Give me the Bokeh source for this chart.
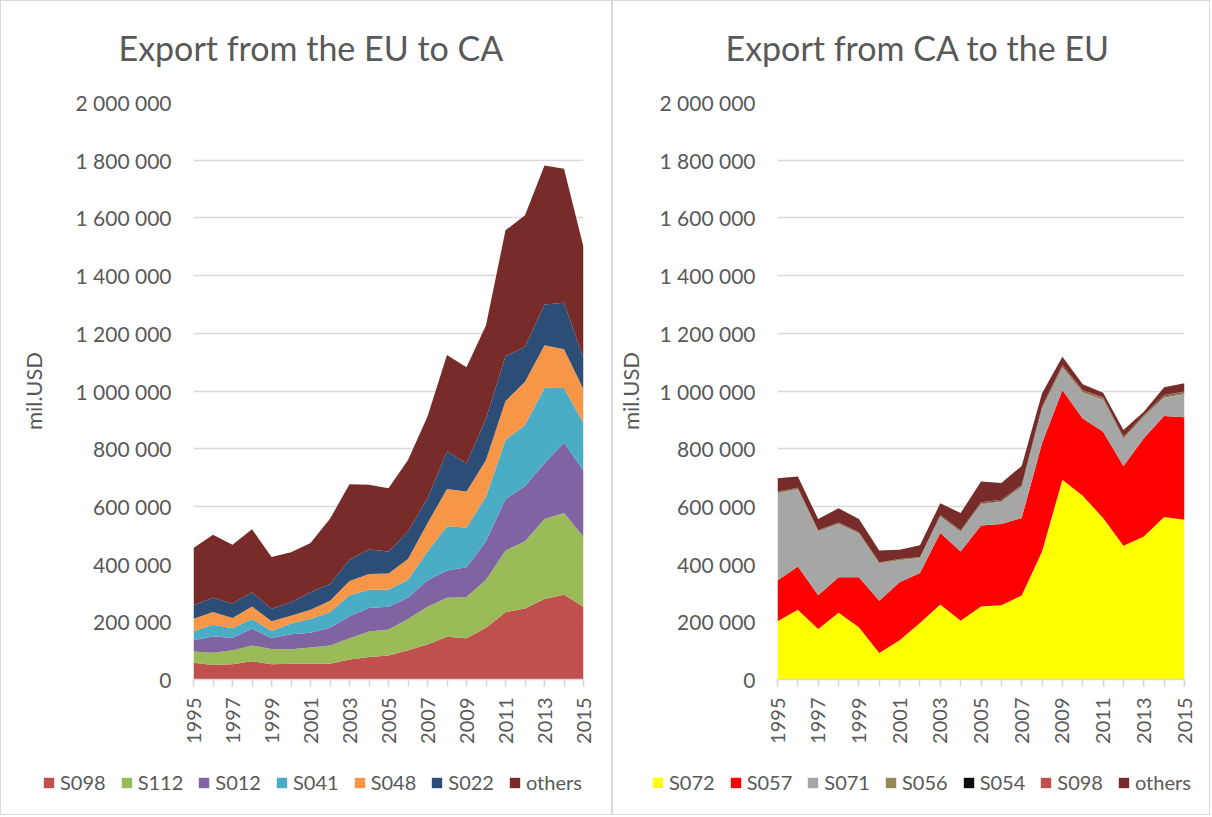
import math
from bokeh.plotting import figure
from bokeh.layouts import row, column
from bokeh.models import ColumnDataSource, FixedTicker, Legend, LegendItem, Range1d, Label
from bokeh.embed import file_html
from bokeh.resources import INLINE

years = list(range(1995, 2016))

# Export from the EU to CA (stack order bottom -> top)
eu_S098 = [58000, 50000, 53000, 63000, 53000, 55000, 55000, 55000, 69000, 78000, 83000,
           101000, 121000, 148000, 143000, 179000, 233000, 246000, 279000, 294000, 252000]
eu_S112 = [39000, 43000, 48000, 55000, 53000, 50000, 56000, 63000, 74000, 88000, 90000,
           109000, 131000, 135000, 143000, 167000, 214000, 233000, 277000, 283000, 242000]
eu_S012 = [39000, 56000, 44000, 58000, 38000, 52000, 51000, 61000, 76000, 82000, 79000,
           73000, 92000, 95000, 103000, 133000, 178000, 192000, 194000, 244000, 230000]
eu_S041 = [31000, 41000, 33000, 34000, 24000, 37000, 48000, 54000, 73000, 63000, 59000,
           63000, 100000, 153000, 138000, 155000, 205000, 211000, 261000, 189000, 164000]
eu_S048 = [44000, 44000, 35000, 43000, 34000, 27000, 32000, 40000, 49000, 55000, 56000,
           72000, 98000, 129000, 125000, 127000, 135000, 150000, 148000, 135000, 118000]
eu_S022 = [46000, 49000, 50000, 49000, 43000, 47000, 60000, 58000, 74000, 85000, 77000,
           95000, 87000, 130000, 98000, 144000, 156000, 121000, 141000, 161000, 107000]
eu_others = [199000, 219000, 204000, 219000, 180000, 173000, 171000, 226000, 262000, 224000, 219000,
             248000, 283000, 335000, 332000, 323000, 436000, 456000, 482000, 464000, 386000]

# Export from CA to the EU (stack order bottom -> top)
ca_S072 = [202000, 242000, 175000, 231000, 181000, 92000, 136000, 196000, 260000, 204000, 253000,
           257000, 291000, 444000, 692000, 637000, 560000, 464000, 496000, 563000, 554000]
ca_S057 = [141000, 150000, 117000, 123000, 173000, 181000, 201000, 173000, 248000, 240000, 281000,
           282000, 269000, 375000, 311000, 268000, 299000, 276000, 340000, 350000, 355000]
ca_S071 = [303000, 267000, 220000, 185000, 151000, 128000, 76000, 51000, 57000, 67000, 73000,
           77000, 107000, 118000, 78000, 89000, 110000, 94000, 73000, 64000, 80000]
ca_S056 = [3000, 3000, 3000, 3000, 3000, 3000, 3000, 3000, 3000, 3000, 4000,
           4000, 5000, 5000, 5000, 5000, 5000, 5000, 5000, 5000, 5000]
ca_S054 = [2000, 2000, 1000, 1000, 1000, 1000, 1000, 1000, 2000, 2000, 2000,
           2000, 2000, 2000, 2000, 2000, 2000, 2000, 2000, 2000, 2000]
ca_S098 = [1000, 1000, 1000, 1000, 1000, 1000, 1000, 1000, 1000, 1000, 1000,
           1000, 1000, 2000, 2000, 2000, 2000, 1000, 1000, 2000, 2000]
ca_others = [46000, 39000, 39000, 50000, 46000, 41000, 32000, 40000, 40000, 60000, 72000,
             58000, 65000, 46000, 29000, 20000, 16000, 23000, 11000, 27000, 29000]

eu_names = ["S098", "S112", "S012", "S041", "S048", "S022", "others"]
eu_colors = ["#C0504D", "#9BBB59", "#8064A2", "#4BACC6", "#F79646", "#2C4D75", "#772C2A"]
ca_names = ["S072", "S057", "S071", "S056", "S054", "S098", "others"]
ca_colors = ["#FFFF00", "#FF0000", "#A6A6A6", "#948A54", "#0D0D0D", "#C0504D", "#772C2A"]

y_ticks = [0, 200000, 400000, 600000, 800000, 1000000, 1200000, 1400000, 1600000, 1800000, 2000000]
y_tick_labels = ["0", "200 000", "400 000", "600 000", "800 000", "1 000 000",
                 "1 200 000", "1 400 000", "1 600 000", "1 800 000", "2 000 000"]

FONT = "Lato"
TXT = "#595959"
GRID = "#d9d9d9"
TITLE_H = 70
CHART_H = 675
LEG_H = 68


def make_title(text, width, tx):
    t = figure(width=width, height=TITLE_H, output_backend="svg", toolbar_location=None,
               x_range=Range1d(0, width), y_range=Range1d(TITLE_H, 0),
               x_axis_type=None, y_axis_type=None,
               min_border_left=0, min_border_right=0, min_border_top=0, min_border_bottom=0)
    t.outline_line_color = None
    t.xgrid.visible = False
    t.ygrid.visible = False
    t.add_layout(Label(x=tx, y=46, text=text, text_font=FONT, text_font_size="34px",
                       text_color=TXT, text_align="left", text_baseline="middle"))
    return t


def make_chart(names, colors, series, width, frame_left, frame_right, ylab_standoff):
    data = {"year": years}
    for n, s in zip(names, series):
        data[n] = s
    src = ColumnDataSource(data)
    p = figure(width=width, height=CHART_H, output_backend="svg", toolbar_location=None,
               x_range=Range1d(1995, 2015), y_range=Range1d(0, 2000000),
               min_border_left=frame_left, min_border_right=width - frame_right,
               min_border_top=31, min_border_bottom=66)
    p.outline_line_color = None
    p.background_fill_color = "white"
    p.border_fill_color = "white"

    p.varea_stack(stackers=names, x="year", color=colors, source=src)

    p.xgrid.visible = False
    p.ygrid.grid_line_color = GRID
    p.ygrid.grid_line_width = 1.5
    p.ygrid.ticker = FixedTicker(ticks=y_ticks)

    ya = p.yaxis[0]
    ya.ticker = FixedTicker(ticks=y_ticks)
    ya.major_label_overrides = {t: l for t, l in zip(y_ticks, y_tick_labels)}
    ya.axis_line_color = None
    ya.major_tick_line_color = None
    ya.minor_tick_line_color = None
    ya.major_tick_out = 0
    ya.major_tick_in = 0
    ya.minor_tick_out = 0
    ya.major_label_standoff = 22
    ya.major_label_text_font = FONT
    ya.major_label_text_font_size = "21px"
    ya.major_label_text_color = TXT
    ya.axis_label = "mil.USD"
    ya.axis_label_text_font = FONT
    ya.axis_label_text_font_size = "22px"
    ya.axis_label_text_font_style = "normal"
    ya.axis_label_text_color = TXT
    ya.axis_label_standoff = ylab_standoff

    xa = p.xaxis[0]
    xa.ticker = FixedTicker(ticks=years[::2], minor_ticks=years)
    xa.axis_line_color = GRID
    xa.axis_line_width = 1.5
    xa.major_tick_line_color = GRID
    xa.minor_tick_line_color = GRID
    xa.major_tick_line_width = 1.5
    xa.minor_tick_line_width = 1.5
    xa.major_tick_in = 0
    xa.major_tick_out = 7
    xa.minor_tick_in = 0
    xa.minor_tick_out = 7
    xa.major_label_orientation = math.pi / 2
    xa.major_label_standoff = 11
    xa.major_label_text_font = FONT
    xa.major_label_text_font_size = "20px"
    xa.major_label_text_color = TXT
    return p


def make_legend(names, colors, width, legend_x):
    q = figure(width=width, height=LEG_H, output_backend="svg", toolbar_location=None,
               x_range=Range1d(0, 1), y_range=Range1d(0, 1),
               x_axis_type=None, y_axis_type=None,
               min_border_left=0, min_border_right=0, min_border_top=0, min_border_bottom=0)
    q.outline_line_color = None
    q.xgrid.visible = False
    q.ygrid.visible = False
    items = []
    for n, c in zip(names, colors):
        # placeholder renderer (outside the visible range) that only supplies the legend swatch
        r = q.varea(x=[0, 1], y1=[-3, -3], y2=[-2, -2], fill_color=c)
        items.append(LegendItem(label=n, renderers=[r]))
    legend = Legend(items=items, orientation="horizontal", location=(legend_x, 20))
    legend.label_text_font = FONT
    legend.label_text_font_size = "20px"
    legend.label_text_color = TXT
    legend.glyph_width = 13
    legend.glyph_height = 13
    legend.label_standoff = 5
    legend.spacing = 14
    legend.border_line_color = None
    legend.background_fill_alpha = 0
    legend.padding = 4
    legend.margin = 0
    q.add_layout(legend)
    return q


panel_style = {"border": "1px solid #d9d9d9"}

left_col = column(
    row(make_title("Export from the EU to CA", 610, 117)),
    make_chart(eu_names, eu_colors,
               [eu_S098, eu_S112, eu_S012, eu_S041, eu_S048, eu_S022, eu_others],
               610, 192, 582, 25),
    row(make_legend(eu_names, eu_colors, 610, 41)),
    styles=panel_style)

right_col = column(
    row(make_title("Export from CA to the EU", 596, 112)),
    make_chart(ca_names, ca_colors,
               [ca_S072, ca_S057, ca_S071, ca_S056, ca_S054, ca_S098, ca_others],
               596, 164, 571, 12),
    row(make_legend(ca_names, ca_colors, 596, 38)),
    styles=panel_style)

layout = row(left_col, right_col)
open("out.html", "w").write(file_html(layout, INLINE))
